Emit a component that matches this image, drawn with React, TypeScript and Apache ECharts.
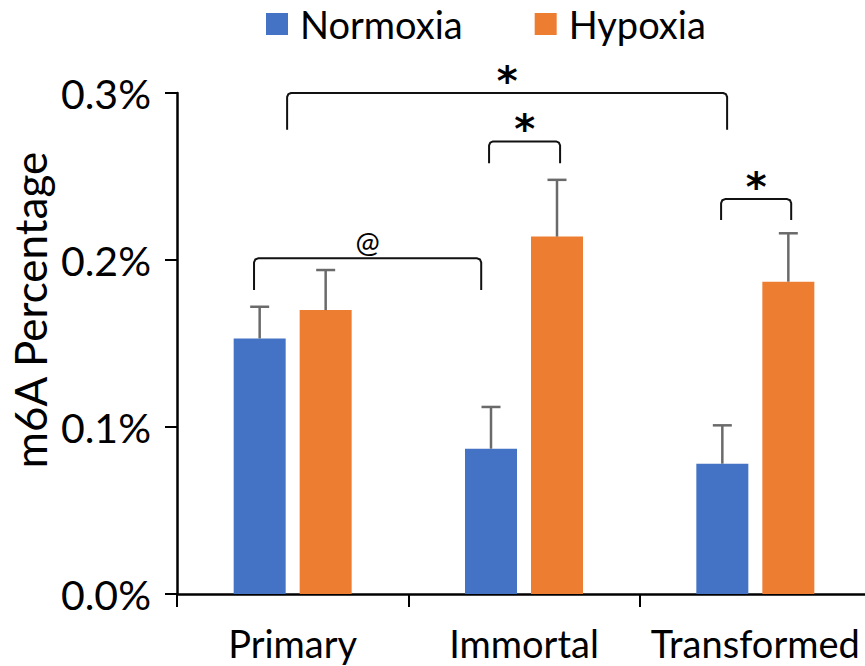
import React, { useEffect, useRef } from "react";
import * as echarts from "echarts";

const categories = ["Primary", "Immortal", "Transformed"];
const seriesNames = ["Normoxia", "Hypoxia"];
const normoxia = [0.153, 0.087, 0.078];
const hypoxia = [0.17, 0.214, 0.187];
const normoxiaErrTop = [0.172, 0.112, 0.101];
const hypoxiaErrTop = [0.194, 0.248, 0.216];
const yMin = 0;
const yMax = 0.3;
const yInterval = 0.1;

// significance brackets: [startCategory, startFraction, endCategory, endFraction, lineValue, legValue]
const bracketEnds = [
  [0, -0.167, 1, -0.185, 0.201, 0.182],
  [0, -0.024, 2, -0.122, 0.3, 0.278],
  [1, -0.151, 1, 0.156, 0.271, 0.258],
  [2, -0.148, 2, 0.155, 0.2365, 0.224],
];
const bracketLabels = ["@", "*", "*", "*"];

const BLUE = "#4472C4";
const ORANGE = "#ED7D31";
const ERR = "#6a6a6a";
const FONT = "Lato";
const BAR_W = 52;
const BAR_GAP = 14;

export default function App() {
  const ref = useRef<HTMLDivElement>(null);
  useEffect(() => {
    if (!ref.current) return;
    const chart = echarts.init(ref.current, undefined, { renderer: "svg" });
    const offset = (BAR_W + BAR_GAP) / 2;

    const errSeries = (tops: number[], vals: number[], sign: number, name: string) => ({
      type: "custom",
      name: name + "-err",
      coordinateSystem: "cartesian2d",
      silent: true,
      clip: false,
      z: 3,
      encode: { x: 0, y: [1, 2] },
      data: vals.map((v, i) => [i, v, tops[i]]),
      renderItem: (params: any, api: any) => {
        const p0 = api.coord([api.value(0), api.value(1)]);
        const p1 = api.coord([api.value(0), api.value(2)]);
        const x = p0[0] + sign * offset;
        const style = { stroke: ERR, lineWidth: 2.5 };
        return {
          type: "group",
          children: [
            { type: "line", shape: { x1: x, y1: p0[1], x2: x, y2: p1[1] }, style },
            { type: "line", shape: { x1: x - 9.5, y1: p1[1], x2: x + 9.5, y2: p1[1] }, style },
          ],
        };
      },
    });

    const option: any = {
      animation: false,
      textStyle: { fontFamily: FONT },
      legend: {
        data: seriesNames,
        top: 5,
        left: 266,
        padding: 0,
        itemWidth: 22,
        itemHeight: 22,
        itemGap: 72,
        icon: "rect",
        textStyle: { fontFamily: FONT, fontSize: 38, color: "#000", padding: [0, 0, 0, 7] },
      },
      grid: { left: 177, top: 93, bottom: 72, right: -6, outerBoundsMode: "none", containLabel: false },
      xAxis: {
        type: "category",
        data: categories,
        axisLine: { lineStyle: { color: "#000", width: 2.5 } },
        axisTick: { show: true, interval: 0, length: 13, lineStyle: { color: "#000", width: 2 } },
        axisLabel: { interval: 0, fontFamily: FONT, fontSize: 38, color: "#000", margin: 30 },
      },
      yAxis: {
        type: "value",
        min: yMin,
        max: yMax,
        interval: yInterval,
        splitLine: { show: false },
        axisLine: { show: true, lineStyle: { color: "#000", width: 2.5 } },
        axisTick: { show: true, length: 12, lineStyle: { color: "#000", width: 2 } },
        axisLabel: {
          fontFamily: FONT,
          fontSize: 41,
          color: "#000",
          margin: 26,
          formatter: (v: number) => v.toFixed(1) + "%",
        },
      },
      graphic: [
        {
          type: "text",
          x: 30,
          y: 310,
          rotation: Math.PI / 2,
          style: {
            text: "m6A Percentage",
            fontFamily: FONT,
            fontSize: 44,
            fill: "#000",
            textAlign: "center",
            textVerticalAlign: "middle",
          },
        },
      ],
      series: [
        {
          type: "bar",
          name: seriesNames[0],
          data: normoxia,
          barWidth: BAR_W,
          barGap: (BAR_GAP / BAR_W) * 100 + "%",
          itemStyle: { color: BLUE },
          z: 2,
        },
        {
          type: "bar",
          name: seriesNames[1],
          data: hypoxia,
          barWidth: BAR_W,
          itemStyle: { color: ORANGE },
          z: 2,
        },
        errSeries(normoxiaErrTop, normoxia, -1, seriesNames[0]),
        errSeries(hypoxiaErrTop, hypoxia, 1, seriesNames[1]),
        {
          type: "custom",
          name: "brackets",
          coordinateSystem: "cartesian2d",
          silent: true,
          clip: false,
          z: 4,
          encode: { x: [0, 2], y: [4, 5] },
          data: bracketEnds.map((b, i) => [...b, i]),
          renderItem: (params: any, api: any) => {
            const band = api.size([1, 0])[0];
            const y = api.value(4);
            const leg = api.value(5);
            const a = api.coord([api.value(0), y]);
            const b = api.coord([api.value(2), y]);
            const l = api.coord([api.value(0), leg]);
            const x1 = a[0] + api.value(1) * band;
            const x2 = b[0] + api.value(3) * band;
            const yl = a[1];
            const yb = l[1];
            const label = bracketLabels[api.value(6)];
            const isStar = label === "*";
            const r = 4;
            return {
              type: "group",
              children: [
                {
                  type: "polyline",
                  shape: {
                    points: [
                      [x1, yb],
                      [x1, yl + r],
                      [x1 + 1.2, yl + 1.2],
                      [x1 + r, yl],
                      [x2 - r, yl],
                      [x2 - 1.2, yl + 1.2],
                      [x2, yl + r],
                      [x2, yb],
                    ],
                  },
                  style: { stroke: "#111", lineWidth: 2, fill: null, lineJoin: "round" },
                },
                {
                  type: "text",
                  x: (x1 + x2) / 2,
                  y: isStar ? yl + 8 : yl - 2,
                  style: {
                    text: label,
                    fontFamily: isStar ? "DejaVu Sans" : FONT,
                    fontWeight: isStar ? "bold" : "normal",
                    fontSize: isStar ? 40 : 29,
                    fill: "#000",
                    textAlign: "center",
                    textVerticalAlign: "bottom",
                  },
                },
              ],
            };
          },
        },
      ],
    };
    chart.setOption(option);
    return () => chart.dispose();
  }, []);
  return (
    <div
      ref={ref}
      style={{ position: "fixed", left: 0, top: 0, width: 865, height: 666, background: "#fff" }}
    />
  );
}
